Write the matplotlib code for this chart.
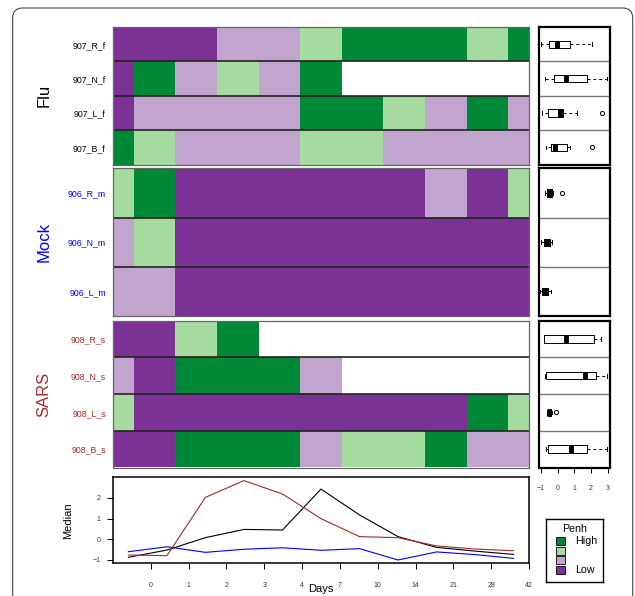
import numpy as np
import matplotlib
matplotlib.use('Agg')
from matplotlib import pyplot as plt
from matplotlib.colors import ListedColormap, BoundaryNorm
from matplotlib.patches import FancyBboxPatch, Rectangle

plt.rcParams['font.family'] = ['Liberation Sans', 'DejaVu Sans']

W, H = 635, 596
nan = np.nan

# Penh levels per day: 1 = Low ... 4 = High, nan = no data
days = ['0', '1', '2', '3', '4', '7', '10', '14', '21', '28', '42']

flu_names = ['907_R_f', '907_N_f', '907_L_f', '907_B_f']
flu_penh = [[1, 1, 1, 2, 2, 3, 4, 4, 4, 3, 4],
            [1, 4, 2, 3, 2, 4, nan, nan, nan, nan, nan],
            [1, 2, 2, 2, 2, 4, 4, 3, 2, 4, 2],
            [4, 3, 2, 2, 2, 3, 3, 2, 2, 2, 2]]

mock_names = ['906_R_m', '906_N_m', '906_L_m']
mock_penh = [[3, 4, 1, 1, 1, 1, 1, 1, 2, 1, 3],
             [2, 3, 1, 1, 1, 1, 1, 1, 1, 1, 1],
             [2, 2, 1, 1, 1, 1, 1, 1, 1, 1, 1]]

sars_names = ['908_R_s', '908_N_s', '908_L_s', '908_B_s']
sars_penh = [[1, 1, 3, 4, nan, nan, nan, nan, nan, nan, nan],
             [2, 1, 4, 4, 4, 2, nan, nan, nan, nan, nan],
             [3, 1, 1, 1, 1, 1, 1, 1, 1, 4, 3],
             [1, 1, 4, 4, 4, 2, 3, 3, 4, 2, 2]]

# box stats per animal: low whisker, q1, median, q3, high whisker, outliers
flu_box = [(-0.99, -0.51, -0.06, 0.74, 2.07, []),
           (-0.77, -0.20, 0.50, 1.75, 2.99, []),
           (-0.93, -0.57, 0.14, 0.30, 1.14, [2.69]),
           (-0.72, -0.42, -0.16, 0.54, 0.74, [2.08])]
mock_box = [(-0.77, -0.66, -0.50, -0.36, -0.26, [0.24]),
            (-1.02, -0.80, -0.66, -0.46, -0.32, []),
            (-1.07, -0.93, -0.77, -0.60, -0.42, [])]
sars_box = [(-0.84, -0.80, 0.48, 2.20, 2.60, []),
            (-0.77, -0.68, 1.64, 2.30, 2.95, []),
            (-0.66, -0.58, -0.52, -0.42, -0.34, [-0.10]),
            (-0.68, -0.58, 0.80, 1.75, 2.95, [])]

# daily medians per group
flu_median = [-0.87, -0.52, 0.08, 0.48, 0.45, 2.43, 1.18, 0.13, -0.39, -0.57, -0.73]
mock_median = [-0.60, -0.36, -0.63, -0.48, -0.41, -0.53, -0.45, -1.00, -0.61, -0.74, -0.92]
sars_median = [-0.76, -0.79, 2.03, 2.84, 2.19, 1.00, 0.13, 0.08, -0.32, -0.47, -0.55]

penh_colors = ['#7B3294', '#C2A5CF', '#A6DBA0', '#008837']
group_colors = ['black', 'blue', '#A52A2A']


def px_axes(fig, x0, y0, x1, y1):
    return fig.add_axes([x0 / W, 1 - y1 / H, (x1 - x0) / W, (y1 - y0) / H])


fig = plt.figure(figsize=(W / 100, H / 100), dpi=100)

# rounded outer frame
fig.add_artist(FancyBboxPatch((0.127, -0.3), 6.2, 6.18,
                              boxstyle='round,pad=0,rounding_size=0.1',
                              transform=fig.dpi_scale_trans, fill=False,
                              edgecolor='#444444', linewidth=0.8))

cmap = ListedColormap(penh_colors)
norm = BoundaryNorm([0.5, 1.5, 2.5, 3.5, 4.5], 4)

groups = [('Flu', flu_names, flu_penh, flu_box, 27, 164.7),
          ('Mock', mock_names, mock_penh, mock_box, 168.3, 316),
          ('SARS', sars_names, sars_penh, sars_box, 320.7, 467.5)]

for gi, (gname, names, penh, boxes, top, bot) in enumerate(groups):
    col = group_colors[gi]
    n = len(names)
    # heatmap
    ax = px_axes(fig, 112.7, top, 529.3, bot)
    data = np.ma.masked_invalid(np.array(penh, dtype=float))
    ax.pcolormesh(np.arange(12) - 0.5, np.arange(n + 1) - 0.5, data,
                  cmap=cmap, norm=norm)
    ax.set_xlim(0, 10)
    ax.set_ylim(n - 0.5, -0.5)
    for k in range(1, n):
        ax.axhline(k - 0.5, color='#222222', lw=1.2)
    ax.set_xticks([])
    ax.set_yticks(range(n))
    ax.set_yticklabels(names, fontsize=6.3, color=col)
    ax.tick_params(axis='y', length=0, pad=5)
    for s in ax.spines.values():
        s.set_color('#666666')
        s.set_linewidth(0.9)
    fig.text(44 / W, 1 - (top + bot) / 2 / H, gname, rotation=90,
             ha='center', va='center', fontsize=12, color=col)

    # boxplots
    bx = px_axes(fig, 538.7, top, 610, bot)
    row_h = (bot - top) / n
    wid = 7.3 / row_h
    stats = [dict(whislo=b[0], q1=b[1], med=b[2], q3=b[3], whishi=b[4],
                  fliers=b[5]) for b in boxes]
    bx.bxp(stats, positions=range(n), vert=False, widths=wid,
           capwidths=wid * 0.5, patch_artist=False,
           boxprops=dict(color='black', lw=0.7),
           whiskerprops=dict(color='black', lw=0.7, ls=(0, (3, 3))),
           capprops=dict(color='black', lw=0.7),
           medianprops=dict(color='black', lw=3.5, solid_capstyle='butt'),
           flierprops=dict(marker='o', markersize=3, markerfacecolor='none',
                           markeredgecolor='black', markeredgewidth=0.7))
    bx.set_xlim(-1.14, 3.15)
    bx.set_ylim(n - 0.5, -0.5)
    for k in range(1, n):
        bx.axhline(k - 0.5, color='#777777', lw=1)
    bx.set_yticks([])
    for s in bx.spines.values():
        s.set_linewidth(1.6)
    if gi == 2:
        bx.set_xticks([-1, 0, 1, 2, 3])
        bx.tick_params(axis='x', length=3.8, width=0.7, pad=8.5,
                       labelsize=5, labelcolor='#333333')
    else:
        bx.set_xticks([])

# median line plot
lx = px_axes(fig, 113, 477.3, 529, 563.3)
xpos = np.arange(1, 12)
lx.plot(xpos, mock_median, color=group_colors[1], lw=0.8)
lx.plot(xpos, flu_median, color=group_colors[0], lw=0.8)
lx.plot(xpos, sars_median, color=group_colors[2], lw=0.8)
lx.set_xlim(0.6, 11.4)
lx.set_ylim(-1.16, 3.0)
lx.set_xticks(np.linspace(1.58, 11.4, 11))
lx.set_xticklabels(days)
lx.set_yticks([-1, 0, 1, 2])
lx.tick_params(axis='x', length=4.2, width=0.7, pad=9, labelsize=5,
               labelcolor='#333333')
lx.tick_params(axis='y', length=4.5, width=0.7, pad=4.5, labelsize=5,
               labelcolor='#333333')
for s in lx.spines.values():
    s.set_linewidth(1.1)
lx.set_ylabel('Median', fontsize=8, labelpad=14)
fig.text(321 / W, 1 - 589.5 / H, 'Days', ha='center', va='center', fontsize=8)

# Penh legend
lg = px_axes(fig, 546, 519.3, 602.7, 582)
lg.set_xlim(546, 602.7)
lg.set_ylim(582, 519.3)
lg.set_xticks([])
lg.set_yticks([])
for s in lg.spines.values():
    s.set_linewidth(1)
lg.text(574.7, 528.7, 'Penh', ha='center', va='center', fontsize=7.7)
legend_labels = ['High', '', '', 'Low']
legend_y = [540.7, 550.5, 560.3, 570.2]
for i, lab in enumerate(legend_labels):
    c = penh_colors[3 - i]
    lg.add_patch(Rectangle((556, legend_y[i] - 4), 8.7, 8, facecolor=c,
                           edgecolor='black', lw=0.6))
    if lab:
        lg.text(574.7, legend_y[i], lab, ha='left', va='center', fontsize=7.7)

fig.savefig('out.png', dpi=100)
